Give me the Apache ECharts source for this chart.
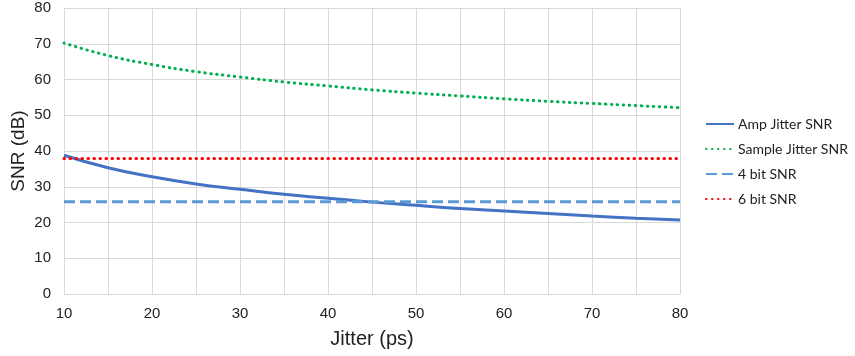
<!DOCTYPE html>
<html>
<head>
<meta charset="utf-8">
<script src="https://cdn.jsdelivr.net/npm/echarts@6/dist/echarts.min.js"></script>
<style>
  html, body { margin: 0; padding: 0; background: #fff; }
  #chart { width: 855px; height: 356px; }
</style>
</head>
<body>
<div id="chart"></div>
<script>
// jitter values (ps)
const jitter = [10, 15, 20, 25, 30, 35, 40, 45, 50, 55, 60, 65, 70, 75, 80]
// SNR (dB)
const ampJitterSNR = [38.8, 35.3, 32.8, 30.8, 29.3, 27.9, 26.8, 25.7, 24.8, 23.9, 23.2, 22.5, 21.8, 21.2, 20.7]
const sampleJitterSNR = [70.2, 66.7, 64.2, 62.2, 60.7, 59.3, 58.2, 57.1, 56.2, 55.4, 54.6, 53.9, 53.3, 52.7, 52.1]
const bit4SNR = [25.8, 25.8, 25.8, 25.8, 25.8, 25.8, 25.8, 25.8, 25.8, 25.8, 25.8, 25.8, 25.8, 25.8, 25.8]
const bit6SNR = [37.9, 37.9, 37.9, 37.9, 37.9, 37.9, 37.9, 37.9, 37.9, 37.9, 37.9, 37.9, 37.9, 37.9, 37.9]

const pairs = (ys) => jitter.map((x, i) => [x, ys[i]])

const dotted = [0.5, 5.5]

const chart = echarts.init(document.getElementById('chart'))
chart.setOption({
  animation: false,
  grid: { left: 64, right: 175, top: 8, bottom: 62, outerBoundsMode: 'none' },
  legend: {
    orient: 'vertical',
    left: 700,
    top: 112,
    itemWidth: 28,
    itemHeight: 14,
    itemGap: 11,
    itemStyle: { opacity: 0 },
    textStyle: { fontFamily: 'Lato', fontSize: 14, color: '#222', padding: [0, 0, 0, -1] },
    data: ['Amp Jitter SNR', 'Sample Jitter SNR', '4 bit SNR', '6 bit SNR']
  },
  xAxis: {
    type: 'value',
    min: 10,
    max: 80,
    interval: 5,
    name: 'Jitter (ps)',
    nameLocation: 'middle',
    nameGap: 35,
    nameTextStyle: { fontFamily: 'Liberation Sans', fontSize: 20, color: '#222' },
    axisLine: { show: true, lineStyle: { color: '#d9d9d9' } },
    axisTick: { show: false },
    axisLabel: {
      fontFamily: 'Liberation Sans', fontSize: 15, color: '#222', margin: 12,
      formatter: (v) => (v % 10 === 0 ? String(v) : '')
    },
    splitLine: { show: true, lineStyle: { color: '#d9d9d9' } }
  },
  yAxis: {
    type: 'value',
    min: 0,
    max: 80,
    interval: 10,
    name: 'SNR (dB)',
    nameLocation: 'middle',
    nameGap: 36,
    nameMoveOverlap: false,
    nameTextStyle: { fontFamily: 'Liberation Sans', fontSize: 19, color: '#222' },
    axisLine: { show: false },
    axisTick: { show: false },
    axisLabel: { fontFamily: 'Liberation Sans', fontSize: 15, color: '#222', margin: 13 },
    splitLine: { lineStyle: { color: '#d9d9d9' } }
  },
  series: [
    {
      name: 'Amp Jitter SNR', type: 'line', smooth: true, symbol: 'none',
      data: pairs(ampJitterSNR),
      itemStyle: { color: '#4472c4' },
      lineStyle: { color: '#4472c4', width: 3 }
    },
    {
      name: 'Sample Jitter SNR', type: 'line', smooth: true, symbol: 'none',
      data: pairs(sampleJitterSNR),
      itemStyle: { color: '#00b050' },
      lineStyle: { color: '#00b050', width: 3, type: dotted, cap: 'round' }
    },
    {
      name: '4 bit SNR', type: 'line', symbol: 'none',
      data: pairs(bit4SNR),
      itemStyle: { color: '#5b9bd5' },
      lineStyle: { color: '#5b9bd5', width: 3, type: [11, 5] }
    },
    {
      name: '6 bit SNR', type: 'line', symbol: 'none',
      data: pairs(bit6SNR),
      itemStyle: { color: '#ff0000' },
      lineStyle: { color: '#ff0000', width: 3, type: dotted, cap: 'round' }
    }
  ]
})
</script>
</body>
</html>
